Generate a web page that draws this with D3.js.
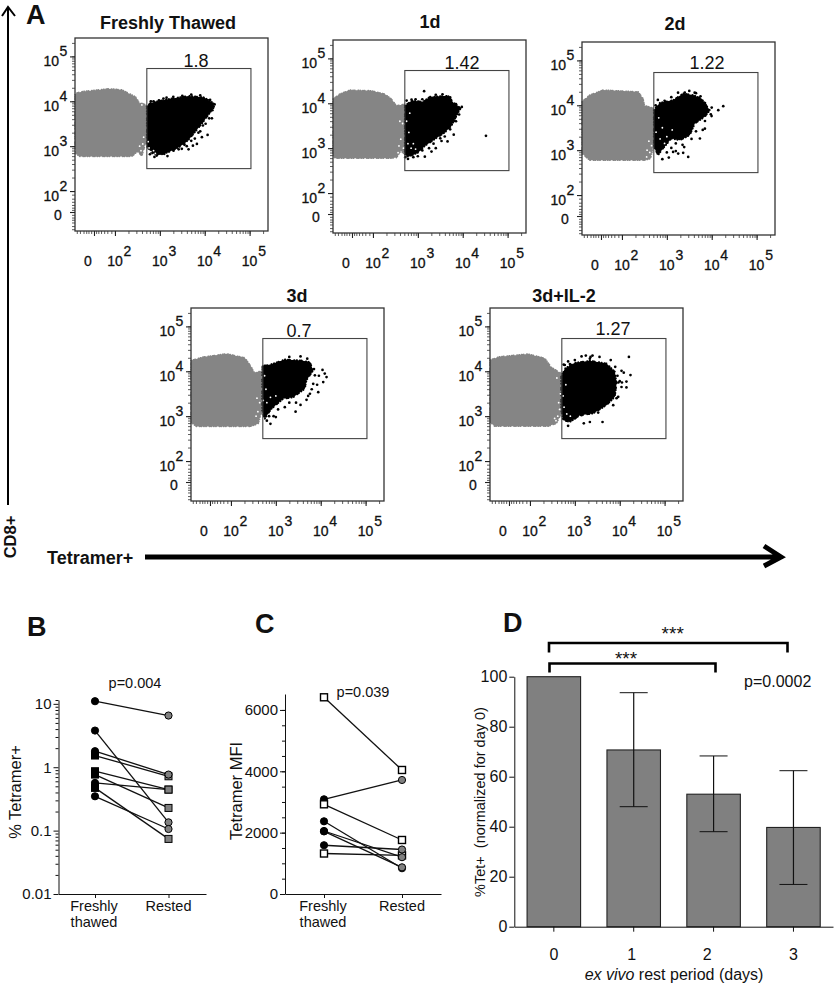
<!DOCTYPE html>
<html>
<head>
<meta charset="utf-8">
<style>
  body { margin: 0; background: #fff; }
  svg { display: block; }
  text { font-family: "Liberation Sans", Arial, sans-serif; fill: #111; }
  .flow-num { stroke: #111; stroke-width: 0.3px; }
</style>
</head>
<body>
<svg id="fig" width="835" height="983"></svg>
<script src="https://d3js.org/d3.v7.min.js"></script>
<script>
// Flow plots: all values are in display decades (2 = 10^2, 5 = 10^5)
var flowTitles = ["Freshly Thawed", "1d", "2d", "3d", "3d+IL-2"];
var gatePercents = ["1.8", "1.42", "1.22", "0.7", "1.27"];
var gateX = [2.71, 5.03];
var gateY = [2.5, 4.73];
var lowTicks = [1.15, 1.22, 1.3, 1.36, 1.41, 1.47, 1.533, 1.58, 1.63, 1.69, 1.76, 1.83, 1.92];

var grey0 = [[1.11,4.145],[1.16,4.19],[1.296,4.22],[1.5,4.24],[1.668,4.257],[1.854,4.279],[2.152,4.257],[2.3,4.18],[2.42,4.12],[2.487,4.07],[2.546,3.944],[2.635,3.96],[2.71,3.87],[2.71,3.14],[2.65,2.955],[2.6,2.783],[2.5,2.88],[2.375,2.77],[1.22,2.77],[1.13,2.83],[1.11,2.99]];
var black0 = [[2.71,3.885],[2.784,3.96],[3.08,4.03],[3.305,4.07],[3.64,4.12],[3.975,4.09],[4.198,3.96],[4.21,3.87],[4.086,3.7],[3.975,3.55],[3.826,3.364],[3.64,3.14],[3.454,2.99],[3.23,2.88],[3.007,2.806],[2.82,2.843],[2.71,2.99]];
var dots0 = [[4.16,3.62],[4.064,3.25],[3.937,3.2],[3.826,3.05],[3.64,2.93],[3.737,3.01],[3.9,3.33],[3.17,2.78],[2.93,2.79],[3.49,2.94],[3.305,2.9],[3.08,4.06],[2.86,4.0],
  [3.0,2.85],[2.88,2.76],[2.78,2.82],[3.1,2.83],[3.2,2.92],[3.35,2.96],[3.42,2.93],[3.55,3.03],[3.6,3.0],[3.7,3.12],[3.78,3.17],[3.86,3.3],[3.96,3.46],[4.02,3.5],[4.1,3.62],[4.17,3.8],[4.22,3.93],[4.12,4.03],[3.9,4.13],[3.7,4.15],[3.5,4.12],[3.3,4.1],[3.15,4.08],[2.98,4.02],[2.8,4.0]];
var holes0 = [[2.62,3.05],[2.58,2.9],[2.66,2.88],[2.64,3.2],[2.6,3.92],[2.55,3.0],[2.68,3.0],[2.76,2.96],[2.8,2.88],[2.86,2.9],[2.74,3.1],[2.9,2.84]];

var grey1 = [[1.11,4.093],[1.259,4.205],[1.482,4.294],[1.966,4.279],[2.263,4.205],[2.412,4.093],[2.524,3.944],[2.71,3.98],[2.71,2.865],[2.62,2.94],[2.524,2.79],[2.41,2.776],[1.147,2.776],[1.11,2.865]];
var black1 = [[2.71,3.944],[2.858,4.056],[3.119,4.04],[3.268,4.145],[3.677,4.167],[3.79,4.02],[3.952,3.89],[3.863,3.72],[3.751,3.5],[3.603,3.35],[3.379,3.2],[3.156,3.05],[3.007,2.9],[2.784,2.806],[2.71,2.865]];
var dots1 = [[3.14,4.27],[4.518,3.275],[3.305,2.925],[3.156,2.81],[3.528,3.16],[3.662,3.15],[3.937,3.87],[3.81,3.61],[2.86,4.08],
  [2.75,4.06],[2.95,4.09],[3.1,4.09],[3.4,4.19],[3.55,4.2],[3.72,4.13],[3.85,3.98],[3.98,3.92],[3.92,3.75],[3.85,3.6],[3.72,3.42],[3.6,3.26],[3.5,3.22],[3.35,3.1],[3.25,3.0],[3.1,2.95],[3.0,2.82],[2.9,2.8],[2.78,2.76],[2.72,2.8],[3.4,3.0],[3.8,3.3]];
var holes1 = [[2.62,3.2],[2.58,3.05],[2.66,3.55],[2.6,3.6],[2.56,2.9],[2.68,3.0],[2.78,3.1],[2.85,3.0],[2.9,3.1],[2.8,3.35],[2.75,3.6],[2.95,2.98],[2.82,3.78]];

var grey2 = [[1.11,4.078],[1.281,4.227],[1.579,4.34],[2.36,4.3],[2.47,4.15],[2.5,4.0],[2.71,3.93],[2.71,3.15],[2.643,2.813],[2.5,2.776],[1.281,2.776],[1.11,2.925]];
var black2 = [[2.71,3.89],[2.844,4.056],[3.14,4.115],[3.364,4.264],[3.588,4.227],[3.774,4.15],[3.96,3.89],[3.848,3.743],[3.625,3.594],[3.513,3.334],[3.29,3.22],[3.104,3.26],[2.918,3.04],[2.806,2.888],[2.71,3.07]];
var dots2 = [[4.257,3.98],[4.146,3.89],[3.737,3.26],[3.476,2.85],[3.044,2.836],[3.253,2.925],[3.14,2.96],[3.364,2.94],[3.387,3.07],[3.848,3.48],[3.997,3.76],[3.4,4.28],[3.65,4.27],
  [2.75,4.0],[2.8,4.12],[2.95,4.1],[3.1,4.18],[3.25,4.28],[3.5,4.32],[3.62,4.28],[3.75,4.2],[3.85,4.05],[4.0,3.95],[3.98,3.8],[3.85,3.65],[3.8,3.45],[3.65,3.42],[3.55,3.25],[3.35,3.12],[3.2,3.15],[3.1,3.05],[3.0,2.95],[2.9,2.8],[2.78,2.98],[3.2,2.98]];
var holes2 = [[2.6,3.2],[2.56,3.0],[2.66,3.1],[2.62,2.95],[2.67,2.88],[2.55,2.85],[2.76,3.4],[2.9,3.5],[2.85,3.25],[3.0,3.3],[3.12,3.45],[2.82,3.72],[2.95,3.15]];

var grey3 = [[1.11,4.24],[1.378,4.316],[1.9,4.39],[2.308,4.3],[2.457,4.093],[2.51,3.98],[2.7,4.0],[2.7,3.13],[2.605,2.83],[2.42,2.77],[1.23,2.77],[1.11,2.865]];
var black3 = [[2.7,4.11],[2.94,4.17],[3.2,4.264],[3.573,4.24],[3.76,4.205],[3.833,4.02],[3.684,3.8],[3.647,3.61],[3.387,3.42],[3.163,3.386],[2.9,3.16],[2.754,2.94],[2.7,3.09]];
var dots3 = [[4.04,4.03],[4.13,3.87],[4.056,3.76],[3.945,3.535],[3.833,3.72],[3.87,3.91],[3.684,3.364],[3.44,3.1],[3.0,2.98],[2.88,2.83],[3.76,3.5],[4.09,3.95],[3.96,3.9],
  [2.75,4.12],[2.9,4.1],[3.1,4.2],[3.3,4.32],[3.55,4.33],[3.7,4.28],[3.85,4.05],[3.92,3.7],[3.8,3.6],[3.72,3.45],[3.55,3.25],[3.45,3.3],[3.2,3.2],[3.05,3.15],[2.95,3.0],[2.85,3.0],[2.8,2.9],[3.3,3.3]];
var holes3 = [[2.6,3.1],[2.64,3.3],[2.56,3.0],[2.66,2.95],[2.58,3.4],[2.55,4.0],[2.75,3.9],[2.78,3.6],[2.88,3.42],[2.8,3.3],[3.0,3.45],[2.72,3.35]];

var grey4 = [[1.11,4.25],[1.326,4.325],[1.958,4.385],[2.33,4.29],[2.479,4.086],[2.7,3.95],[2.7,3.06],[2.59,2.84],[2.405,2.776],[1.214,2.776],[1.11,2.87]];
var black4 = [[2.7,3.88],[2.776,4.06],[3.0,4.19],[3.335,4.235],[3.707,4.175],[3.893,3.99],[3.93,3.73],[3.893,3.43],[3.707,3.245],[3.41,3.06],[3.11,3.02],[2.89,2.87],[2.74,2.91],[2.7,3.13]];
var dots4 = [[4.205,4.32],[3.245,4.35],[3.394,4.35],[3.335,4.28],[2.776,4.14],[2.89,4.16],[4.24,3.915],[4.15,3.64],[4.04,3.65],[4.15,3.77],[4.04,4.01],[4.09,3.97],[3.967,3.43],[3.617,2.87],[3.335,2.87],[3.2,2.84],[2.85,2.785],[4.0,3.78],[3.855,3.245],[3.93,3.4],
  [2.75,4.15],[2.85,4.22],[3.0,4.25],[3.15,4.33],[3.35,4.32],[3.55,4.32],[3.8,4.25],[3.9,4.1],[3.95,3.9],[3.97,3.75],[4.05,3.75],[3.8,3.55],[3.75,3.4],[3.6,3.25],[3.45,3.15],[3.3,3.1],[3.15,3.02],[3.0,2.95],[2.85,2.92],[2.75,2.95],[3.52,3.08],[3.9,3.62]];
var holes4 = [[2.62,3.0],[2.66,3.15],[2.58,2.9],[2.64,3.3],[2.68,3.5],[2.6,3.85],[2.55,2.95],[2.76,3.2],[2.82,3.05],[2.74,3.45],[2.9,3.0],[2.8,3.7]];

// Panel B, % Tetramer+
var bLeft = [11.0, 3.79, 1.79, 1.53, 0.865, 0.766, 0.566, 0.472, 0.348];
var bRight = [6.54, 0.135, 0.766, 0.72, 0.444, 0.228, 0.444, 0.074, 0.106];
var bLeftShape = ["o", "o", "o", "s", "s", "s", "o", "s", "o"];
var bRightShape = ["o", "o", "o", "s", "s", "s", "s", "s", "o"];

// Panel C, Tetramer MFI
var cLeft = [6413, 3087, 2924, 2370, 2054, 2040, 1590, 1320];
var cRight = [4043, 3717, 1761, 840, 1200, 870, 1450, 1260];
var cLeftShape = ["s", "o", "s", "o", "o", "o", "o", "s"];
var cRightShape = ["s", "o", "s", "o", "o", "o", "o", "s"];

var pairCats = ["Freshly", "Rested"];

// Panel D
var restDays = ["0", "1", "2", "3"];
var restMean = [100, 70.7, 53, 39.7];
var restHigh = [null, 93.6, 68.3, 62.4];
var restLow = [null, 48, 38, 16.9];

var svg = d3.select("#fig");

function drawText(g, x, y, str, size, opts) {
  opts = opts || {};
  return g.append("text")
    .attr("x", x).attr("y", y)
    .attr("text-anchor", opts.anchor || "middle")
    .attr("dominant-baseline", "central")
    .attr("font-size", size)
    .attr("font-weight", opts.bold ? "bold" : "normal")
    .attr("class", opts.cls || null)
    .text(str);
}

// minor log ticks in decade units, 10^2 to 10^5
var flowTicks = lowTicks.slice();
[2, 3, 4].forEach(function (dec) {
  d3.range(1, 10).forEach(function (k) { flowTicks.push(dec + Math.log10(k)); });
});
flowTicks.push(5, 5 + Math.log10(2));
var flowMajor = [1.533, 2, 3, 4, 5];

function drawFlow(left, top, title, titleX, titleY, pct, pctX, pctY, greyCloud, blackCloud, dots, holes) {
  var x = d3.scaleLinear().domain([1.11, 5.41]).range([0, 193]);
  var y = d3.scaleLinear().domain([5.41, 1.11]).range([0, 193]);
  var g = svg.append("g").attr("transform", "translate(" + left + "," + top + ")");

  var outline = d3.line().x(function (d) { return x(d[0]); }).y(function (d) { return y(d[1]); })
    .curve(d3.curveLinearClosed);

  // rough edge from an uneven dotted stroke round the read outline
  g.append("path").attr("d", outline(greyCloud)).attr("fill", "#858585")
    .attr("stroke", "#858585").attr("stroke-width", 1.6).attr("stroke-linecap", "round")
    .attr("stroke-dasharray", "0.4 2.1 0.4 1.3 0.4 3.2 0.4 1.7");
  g.append("path").attr("d", outline(blackCloud)).attr("fill", "#000")
    .attr("stroke", "#000").attr("stroke-width", 1.8).attr("stroke-linecap", "round")
    .attr("stroke-dasharray", "0.4 2.6 0.4 1.4 0.4 4 0.4 2.2");
  g.selectAll("circle.hole").data(holes).enter().append("circle").attr("class", "hole")
    .attr("cx", function (d) { return x(d[0]); })
    .attr("cy", function (d) { return y(d[1]); })
    .attr("r", 0.9).attr("fill", "#fff");
  g.selectAll("circle.ev").data(dots).enter().append("circle").attr("class", "ev")
    .attr("cx", function (d) { return x(d[0]); })
    .attr("cy", function (d) { return y(d[1]); })
    .attr("r", 1.35).attr("fill", "#000");

  // gate
  g.append("rect")
    .attr("x", x(gateX[0])).attr("y", y(gateY[1]))
    .attr("width", x(gateX[1]) - x(gateX[0])).attr("height", y(gateY[0]) - y(gateY[1]))
    .attr("fill", "none").attr("stroke", "#444").attr("stroke-width", 1.1);

  // frame
  g.append("rect").attr("width", 193).attr("height", 193)
    .attr("fill", "none").attr("stroke", "#333").attr("stroke-width", 1.3);

  var tickX = d3.axisBottom(x).tickValues(flowTicks).tickFormat("").tickSize(3).tickSizeOuter(0);
  var ax = g.append("g").attr("transform", "translate(0,193)").call(tickX);
  ax.select(".domain").remove();
  ax.selectAll("line").attr("stroke", "#333").attr("stroke-width", 0.8);
  var majX = d3.axisBottom(x).tickValues(flowMajor).tickFormat("").tickSize(5).tickSizeOuter(0);
  var mx = g.append("g").attr("transform", "translate(0,193)").call(majX);
  mx.select(".domain").remove();
  mx.selectAll("line").attr("stroke", "#222").attr("stroke-width", 1.1);

  var tickY = d3.axisLeft(y).tickValues(flowTicks).tickFormat("").tickSize(3).tickSizeOuter(0);
  var ay = g.append("g").call(tickY);
  ay.select(".domain").remove();
  ay.selectAll("line").attr("stroke", "#333").attr("stroke-width", 0.8);
  var majY = d3.axisLeft(y).tickValues(flowMajor).tickFormat("").tickSize(5).tickSizeOuter(0);
  var my = g.append("g").call(majY);
  my.select(".domain").remove();
  my.selectAll("line").attr("stroke", "#222").attr("stroke-width", 1.1);

  // tick labels, 10 with raised exponent
  [2, 3, 4, 5].forEach(function (dec) {
    drawText(g, x(dec), 222.5, "10", 14, { cls: "flow-num" });
    drawText(g, x(dec) + 12.5, 212.5, String(dec), 14, { cls: "flow-num" });
    drawText(g, -16, y(dec) + 4.5, "10", 14, { anchor: "end", cls: "flow-num" });
    drawText(g, -11.5, y(dec) - 5.5, String(dec), 14, { cls: "flow-num" });
  });
  drawText(g, x(1.533) - 6, 222.5, "0", 14, { cls: "flow-num" });
  drawText(g, -17, y(1.533) + 3, "0", 14, { cls: "flow-num" });

  drawText(svg, titleX, titleY, title, 18, { bold: true });
  drawText(svg, pctX, pctY, pct, 18);
}

drawFlow(75, 38, flowTitles[0], 168, 23, gatePercents[0], 196, 61, grey0, black0, dots0, holes0);
drawFlow(333, 40, flowTitles[1], 430, 22, gatePercents[1], 462, 63, grey1, black1, dots1, holes1);
drawFlow(582, 42, flowTitles[2], 675, 24, gatePercents[2], 707, 63, grey2, black2, dots2, holes2);
drawFlow(191, 308, flowTitles[3], 297, 296, gatePercents[3], 299, 331, grey3, black3, dots3, holes3);
drawFlow(490, 308, flowTitles[4], 564, 296, gatePercents[4], 613, 329, grey4, black4, dots4, holes4);

// CD8+ and Tetramer+ arrows
svg.append("path").attr("d", "M8,505V7M2,16L8,7L15,16")
  .attr("fill", "none").attr("stroke", "#000").attr("stroke-width", 2);
drawText(svg, 0, 0, "CD8+", 16.5, { bold: true }).attr("transform", "translate(10,537) rotate(-90)");
drawText(svg, 47, 558, "Tetramer+", 18, { bold: true, anchor: "start" });
svg.append("path").attr("d", "M145,557H780M764,546L781,557L764,566")
  .attr("fill", "none").attr("stroke", "#000").attr("stroke-width", 5);

// panel letters
[["A", 26, 15], ["B", 27, 627], ["C", 255, 624], ["D", 503, 623]].forEach(function (d) {
  drawText(svg, d[1], d[2], d[0], 27, { bold: true, anchor: "start" });
});

// Panels B and C share the paired layout
function drawPaired(left, xEnd, x0, x1, y, tickVals, tickFmt, minor, leftVals, rightVals, leftShape, rightShape, openSquares) {
  var g = svg.append("g");
  var x = d3.scalePoint().domain(pairCats).range([x0, x1]);

  var ya = d3.axisLeft(y).tickValues(tickVals).tickFormat(tickFmt).tickSize(5).tickSizeOuter(0);
  var yg = g.append("g").attr("transform", "translate(" + left + ",0)").call(ya);
  yg.selectAll("text").attr("font-size", 15).attr("dx", 1);
  var ym = d3.axisLeft(y).tickValues(minor).tickFormat("").tickSize(3).tickSizeOuter(0);
  g.append("g").attr("transform", "translate(" + left + ",0)").call(ym).select(".domain").remove();
  g.selectAll("line, path").attr("stroke", "#111");

  var xs = d3.scaleLinear().domain([left, xEnd]).range([left, xEnd]);
  var xa = d3.axisBottom(xs).tickValues([x0, x1]).tickFormat("").tickSize(4).tickSizeOuter(0);
  var baseY = y.range()[0];
  g.append("g").attr("transform", "translate(0," + baseY + ")").call(xa)
    .selectAll("line, path").attr("stroke", "#111");

  leftVals.forEach(function (v, i) {
    g.append("line").attr("x1", x(pairCats[0])).attr("x2", x(pairCats[1]))
      .attr("y1", y(v)).attr("y2", y(rightVals[i]))
      .attr("stroke", "#111").attr("stroke-width", 1.3);
  });

  function marker(cx, cy, shape, fill) {
    if (shape === "o") {
      g.append("circle").attr("cx", cx).attr("cy", cy).attr("r", 3.6)
        .attr("fill", fill).attr("stroke", "#000").attr("stroke-width", 1);
    } else {
      g.append("rect").attr("x", cx - 3.5).attr("y", cy - 3.5).attr("width", 7).attr("height", 7)
        .attr("fill", openSquares ? "#fff" : fill).attr("stroke", "#000")
        .attr("stroke-width", openSquares ? 1.4 : 1);
    }
  }
  // squares sit behind the circles on the rested side
  ["s", "o"].forEach(function (shape) {
    rightVals.forEach(function (v, i) {
      if (rightShape[i] === shape) marker(x(pairCats[1]), y(v), shape, "#808080");
    });
  });
  leftVals.forEach(function (v, i) { marker(x(pairCats[0]), y(v), leftShape[i], "#000"); });

  drawText(g, x0 - 1, 906, pairCats[0], 14.5);
  drawText(g, x0 - 1, 922, "thawed", 14.5);
  drawText(g, x1, 906, pairCats[1], 14.5);
}

var minorB = [];
[0.01, 0.1, 1].forEach(function (dec) {
  d3.range(2, 10).forEach(function (k) { minorB.push(dec * k); });
});
minorB.push(11.5);
var fmtB = function (d) { return String(d); };
drawPaired(58.5, 206, 95, 168.5, d3.scaleLog().domain([0.01, 11.5]).range([894, 700]),
  [0.01, 0.1, 1, 10], fmtB, minorB, bLeft, bRight, bLeftShape, bRightShape, false);
drawText(svg, 135, 683, "p=0.004", 14.5);
drawText(svg, 0, 0, "% Tetramer+", 16.5).attr("transform", "translate(15,792) rotate(-90)");

var yC = d3.scaleLinear().domain([0, 6520]).range([894, 694]);
drawPaired(285, 441, 324, 402, yC, [0, 2000, 4000, 6000], d3.format("d"),
  d3.range(500, 6500, 500), cLeft, cRight, cLeftShape, cRightShape, true);
drawText(svg, 363, 692, "p=0.039", 14.5);
drawText(svg, 0, 0, "Tetramer MFI", 16.5).attr("transform", "translate(236,791) rotate(-90)");

// Panel D
var gD = svg.append("g");
var xD = d3.scaleBand().domain(restDays).range([514.3, 833]).paddingInner(0.33).paddingOuter(0.16);
var yD = d3.scaleLinear().domain([0, 100]).range([926.7, 676.7]);

gD.selectAll("rect.bar").data(restMean).enter().append("rect").attr("class", "bar")
  .attr("x", function (d, i) { return xD(restDays[i]); })
  .attr("y", function (d) { return yD(d); })
  .attr("width", xD.bandwidth())
  .attr("height", function (d) { return yD(0) - yD(d); })
  .attr("fill", "#808080").attr("stroke", "#222").attr("stroke-width", 1.1);

restMean.forEach(function (d, i) {
  if (restHigh[i] === null) return;
  var cx = xD(restDays[i]) + xD.bandwidth() / 2;
  gD.append("line").attr("x1", cx).attr("x2", cx).attr("y1", yD(restHigh[i])).attr("y2", yD(restLow[i]))
    .attr("stroke", "#111").attr("stroke-width", 1.2);
  [restHigh[i], restLow[i]].forEach(function (v) {
    gD.append("line").attr("x1", cx - 14).attr("x2", cx + 14).attr("y1", yD(v)).attr("y2", yD(v))
      .attr("stroke", "#222").attr("stroke-width", 1);
  });
});

var ayD = gD.append("g").attr("transform", "translate(514.3,0)")
  .call(d3.axisLeft(yD).ticks(6).tickSize(5).tickSizeOuter(0));
ayD.selectAll("text").attr("font-size", 16).attr("dx", 1);
var axD = gD.append("g").attr("transform", "translate(0,926.7)")
  .call(d3.axisBottom(xD).tickSize(5).tickSizeOuter(0));
axD.selectAll("text").remove();
gD.selectAll("line, path").attr("stroke", "#111");

var labelShift = [0, -2, -6.5, 0];
restDays.forEach(function (d, i) {
  drawText(gD, xD(d) + xD.bandwidth() / 2 + labelShift[i], 954, d, 16);
});

var xTitle = drawText(gD, 674, 974, "", 16);
xTitle.append("tspan").attr("font-style", "italic").text("ex vivo");
xTitle.append("tspan").text(" rest period (days)");
drawText(gD, 0, 0, "%Tet+  (normalized for day 0)", 14.5).attr("transform", "translate(480,802) rotate(-90)")
  .attr("xml:space", "preserve").style("white-space", "pre");

// significance brackets
function bracket(x0, x1, top, drop) {
  gD.append("path").attr("d", "M" + x0 + "," + (top + drop) + "V" + top + "H" + x1 + "V" + (top + drop))
    .attr("fill", "none").attr("stroke", "#000").attr("stroke-width", 2.6);
}
bracket(549, 787.5, 643, 9.5);
bracket(549.5, 715.5, 663.5, 9);
drawText(gD, 672.7, 633, "***", 19);
drawText(gD, 626, 658, "***", 19);
drawText(gD, 777.7, 681.7, "p=0.0002", 16);
</script>
</body>
</html>
